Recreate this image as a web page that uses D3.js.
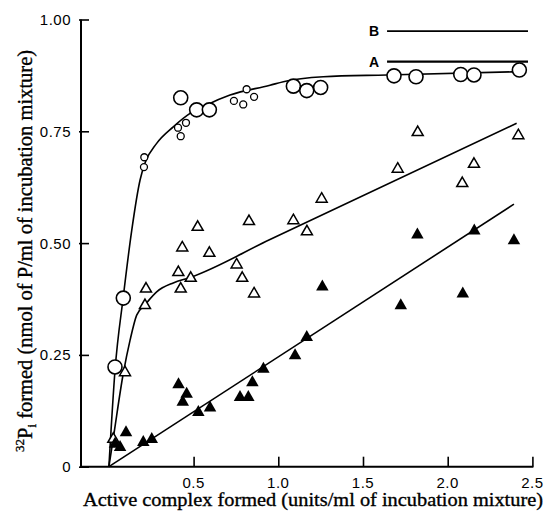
<!DOCTYPE html>
<html>
<head>
<meta charset="utf-8">
<script src="https://cdn.jsdelivr.net/npm/d3@7/dist/d3.min.js"></script>
<style>
  html, body { margin: 0; padding: 0; background: #fff; }
  svg { display: block; }
</style>
</head>
<body>
<svg id="chart" width="553" height="515"></svg>
<script>
// ---------------- data ----------------
const xTicks = [0.5, 1.0, 1.5, 2.0, 2.5];
const xTickLabels = ["0.5", "1.0", "1.5", "2.0", "2.5"];
const yTicks = [0, 0.25, 0.5, 0.75, 1.0];
const yTickLabels = ["0", "0.25", "0.50", "0.75", "1.00"];

// large open circles
const bigCircles = [
  [0.036, 0.223], [0.085, 0.377], [0.424, 0.825], [0.518, 0.798], [0.593, 0.798],
  [1.089, 0.851], [1.168, 0.841], [1.250, 0.848], [1.683, 0.874], [1.813, 0.872],
  [2.077, 0.877], [2.155, 0.876], [2.423, 0.887]
];
// small open circles
const smallCircles = [
  [0.209, 0.692], [0.207, 0.670], [0.408, 0.758], [0.455, 0.769], [0.424, 0.739],
  [0.738, 0.818], [0.793, 0.810], [0.813, 0.844], [0.857, 0.827]
];
// open triangles
const openTriangles = [
  [0.026, 0.063], [0.095, 0.212], [0.219, 0.399], [0.213, 0.362], [0.433, 0.491],
  [0.410, 0.436], [0.424, 0.399], [0.483, 0.423], [0.593, 0.479], [0.754, 0.453],
  [0.787, 0.423], [0.857, 0.388], [0.524, 0.537], [0.827, 0.550], [1.823, 0.749],
  [2.417, 0.742], [1.705, 0.667], [2.155, 0.678], [2.086, 0.635], [1.256, 0.600],
  [1.089, 0.552], [1.169, 0.527]
];
// filled triangles
const filledTriangles = [
  [0.036, 0.052], [0.066, 0.045], [0.101, 0.078], [0.203, 0.056], [0.253, 0.063],
  [0.411, 0.185], [0.459, 0.164], [0.436, 0.146], [0.528, 0.123], [0.597, 0.133],
  [0.774, 0.157], [0.823, 0.157], [0.847, 0.190], [0.912, 0.220], [1.099, 0.250],
  [1.168, 0.291], [1.260, 0.404], [1.723, 0.362], [2.089, 0.388], [1.821, 0.520],
  [2.157, 0.529], [2.391, 0.507]
];
// fitted curves
const circleCurve = [
  [0, 0], [0.036, 0.215], [0.085, 0.380], [0.135, 0.529], [0.184, 0.641], [0.213, 0.679],
  [0.282, 0.723], [0.380, 0.760], [0.479, 0.790], [0.577, 0.809], [0.715, 0.831],
  [0.951, 0.853], [1.030, 0.861], [1.266, 0.872], [1.640, 0.876], [2.386, 0.883]
];
const openCurve = [
  [0, 0], [0.026, 0.064], [0.085, 0.209], [0.125, 0.283], [0.164, 0.339], [0.213, 0.362],
  [0.282, 0.391], [0.380, 0.411], [0.479, 0.423], [0.951, 0.508], [2.407, 0.768]
];
const filledLine = [[0, 0], [2.391, 0.587]];
// reference levels A and B
const refNames = ["A", "B"];
const refValues = [0.906, 0.974];
const refXRange = [1.642, 2.474];

// ---------------- drawing ----------------
const svg = d3.select("#chart");
const x = d3.scaleLinear().domain([0, 2.5]).range([108.9, 532.4]);
const y = d3.scaleLinear().domain([0, 1]).range([466.7, 19.5]);
const axisX = 81;
const x0 = y(0);
const sans = "Liberation Sans, Arial, Helvetica, sans-serif";
const serif = "Liberation Serif, Times New Roman, serif";

// x axis
const gx = svg.append("g").attr("transform", `translate(0,${x0})`);
gx.call(d3.axisTop(x).tickValues(xTicks).tickSize(10).tickFormat(""))
  .call(g => g.select(".domain").remove());
gx.selectAll(".tick line").attr("stroke", "#000").attr("stroke-width", 1.6);
gx.append("line").attr("x1", axisX).attr("x2", x(2.5) + 1).attr("y1", 0).attr("y2", 0)
  .attr("stroke", "#000").attr("stroke-width", 2);
gx.selectAll("text.lbl").data(xTicks).join("text")
  .attr("class", "lbl")
  .attr("x", d => x(d)).attr("y", 21)
  .attr("text-anchor", "middle")
  .attr("fill", "#000")
  .attr("font-family", sans)
  .attr("font-size", 15)
  .attr("letter-spacing", 0.5)
  .text((d, i) => xTickLabels[i]);

// y axis
const gy = svg.append("g").attr("transform", `translate(${axisX},0)`);
gy.call(d3.axisRight(y).tickValues(yTicks).tickSize(8).tickFormat(""))
  .call(g => g.select(".domain").remove());
gy.selectAll(".tick line").attr("stroke", "#000").attr("stroke-width", 1.6).attr("x1", -2);
gy.append("line").attr("x1", 0).attr("x2", 0).attr("y1", y(1)).attr("y2", x0 + 1)
  .attr("stroke", "#000").attr("stroke-width", 2);
gy.selectAll("text.lbl").data(yTicks).join("text")
  .attr("class", "lbl")
  .attr("x", -10).attr("y", d => y(d) + 5.5)
  .attr("text-anchor", "end")
  .attr("fill", "#000")
  .attr("font-family", sans)
  .attr("font-size", 15)
  .attr("letter-spacing", 0.5)
  .text((d, i) => yTickLabels[i]);

// curves
const line = d3.line().x(d => x(d[0])).y(d => y(d[1])).curve(d3.curveMonotoneX);
[circleCurve, openCurve, filledLine].forEach(c => {
  svg.append("path").datum(c).attr("d", line)
    .attr("fill", "none").attr("stroke", "#000").attr("stroke-width", 1.6);
});

// reference lines
refValues.forEach((v, i) => {
  svg.append("line")
    .attr("x1", x(refXRange[0])).attr("x2", x(refXRange[1]))
    .attr("y1", y(v)).attr("y2", y(v))
    .attr("stroke", "#000").attr("stroke-width", refNames[i] === "A" ? 2.2 : 1.8);
  svg.append("text")
    .attr("x", x(refXRange[0]) - 8).attr("y", y(v) + 5)
    .attr("text-anchor", "end")
    .attr("font-family", sans)
    .attr("font-weight", "bold")
    .attr("font-size", 14)
    .text(refNames[i]);
});

// markers
svg.append("g").selectAll("circle").data(bigCircles).join("circle")
  .attr("cx", d => x(d[0])).attr("cy", d => y(d[1])).attr("r", 7)
  .attr("fill", "#fff").attr("stroke", "#000").attr("stroke-width", 1.6);
svg.append("g").selectAll("circle").data(smallCircles).join("circle")
  .attr("cx", d => x(d[0])).attr("cy", d => y(d[1])).attr("r", 3.5)
  .attr("fill", "#fff").attr("stroke", "#000").attr("stroke-width", 1.3);
const tri = (cx, cy, w, h) => `M${cx},${cy - h * 0.6}L${cx + w / 2},${cy + h * 0.4}L${cx - w / 2},${cy + h * 0.4}Z`;
svg.append("g").selectAll("path").data(openTriangles).join("path")
  .attr("d", d => tri(x(d[0]), y(d[1]), 11, 9.5))
  .attr("fill", "#fff").attr("stroke", "#000").attr("stroke-width", 1.5)
  .attr("stroke-linejoin", "miter");
svg.append("g").selectAll("path").data(filledTriangles).join("path")
  .attr("d", d => tri(x(d[0]), y(d[1]), 12.5, 11))
  .attr("fill", "#000").attr("stroke", "none");

// axis titles
svg.append("text")
  .attr("x", 83).attr("y", 506)
  .attr("font-family", serif)
  .attr("font-size", 19.5)
  .attr("stroke", "#000").attr("stroke-width", 0.35)
  .attr("textLength", 460).attr("lengthAdjust", "spacingAndGlyphs")
  .text("Active complex formed (units/ml of incubation mixture)");

const yt = svg.append("text")
  .attr("transform", "translate(32,452) rotate(-90)")
  .attr("x", 0).attr("y", 0)
  .attr("font-family", serif)
  .attr("font-size", 20.5)
  .attr("stroke", "#000").attr("stroke-width", 0.35);
yt.append("tspan").attr("font-size", 13).attr("dy", -8).text("32");
yt.append("tspan").attr("dy", 8).text("P");
yt.append("tspan").attr("font-size", 13).attr("dy", 4).text("i");
yt.append("tspan").attr("dy", -4).text(" formed (nmol of P/ml of incubation mixture)");
</script>
</body>
</html>
